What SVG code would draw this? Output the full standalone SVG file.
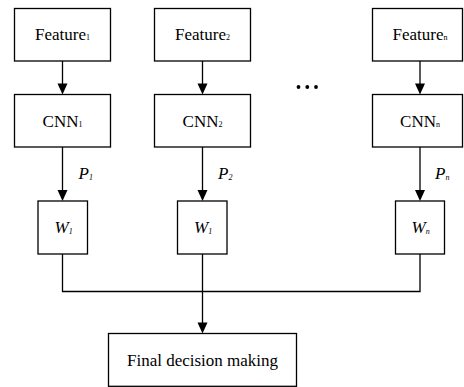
<svg xmlns="http://www.w3.org/2000/svg" width="464" height="387" viewBox="0 0 464 387">
  <style>
    .box { fill: #ffffff; stroke: #000000; stroke-width: 1.3; }
    .wire { fill: none; stroke: #000000; stroke-width: 1.3; }
    text { font-family: 'Liberation Serif', 'DejaVu Serif', serif; font-size: 17px; fill: #000000; }
    .lbl { text-anchor: middle; }
    .it { font-style: italic; text-anchor: start; }
    .sub { font-size: 8px; }
  </style>
  <rect width="464" height="387" fill="#ffffff"/>

  <!-- connectors -->
  <g id="connectors">
    <line class="wire" x1="62.5" y1="61" x2="62.5" y2="90"/>
    <line class="wire" x1="202.5" y1="61" x2="202.5" y2="90"/>
    <line class="wire" x1="420" y1="61" x2="420" y2="90"/>
    <line class="wire" x1="62.5" y1="147" x2="62.5" y2="196"/>
    <line class="wire" x1="202.5" y1="147" x2="202.5" y2="196"/>
    <line class="wire" x1="420" y1="147" x2="420" y2="196"/>
    <polyline class="wire" points="62.5,254 62.5,291.5 420,291.5 420,254"/>
    <line class="wire" x1="202.5" y1="254" x2="202.5" y2="328"/>
    <!-- arrowheads -->
    <g fill="#000000">
      <path d="M57.5,83.5 L67.5,83.5 L62.5,94.5 Z"/>
      <path d="M197.5,83.5 L207.5,83.5 L202.5,94.5 Z"/>
      <path d="M415,83.5 L425,83.5 L420,94.5 Z"/>
      <path d="M57.5,190 L67.5,190 L62.5,201 Z"/>
      <path d="M197.5,190 L207.5,190 L202.5,201 Z"/>
      <path d="M415,190 L425,190 L420,201 Z"/>
      <path d="M197.5,322.5 L207.5,322.5 L202.5,333.5 Z"/>
    </g>
    <!-- edge labels -->
    <text class="it" x="78.5" y="179">P<tspan class="sub" dy="1">1</tspan></text>
    <text class="it" x="218" y="179">P<tspan class="sub" dy="1">2</tspan></text>
    <text class="it" x="435" y="179">P<tspan class="sub" dy="1">n</tspan></text>
  </g>

  <!-- feature inputs -->
  <g id="feature1">
    <rect class="box" x="14.5" y="8.5" width="96" height="52.5"/>
    <text class="lbl" x="62.5" y="40">Feature<tspan class="sub">1</tspan></text>
  </g>
  <g id="feature2">
    <rect class="box" x="154.5" y="8.5" width="96" height="52.5"/>
    <text class="lbl" x="202.5" y="40">Feature<tspan class="sub">2</tspan></text>
  </g>
  <g id="featuren">
    <rect class="box" x="372.5" y="8.5" width="90" height="52.5"/>
    <text class="lbl" x="420" y="40">Feature<tspan class="sub">n</tspan></text>
  </g>

  <!-- ellipsis between columns -->
  <g id="ellipsis" fill="#000000">
    <circle cx="298.5" cy="87" r="1.9"/>
    <circle cx="307.3" cy="87" r="1.9"/>
    <circle cx="316" cy="87" r="1.9"/>
  </g>

  <!-- CNN branches -->
  <g id="cnn1">
    <rect class="box" x="14.5" y="94.5" width="96" height="52.5"/>
    <text class="lbl" x="62.5" y="126.5">CNN<tspan class="sub">1</tspan></text>
  </g>
  <g id="cnn2">
    <rect class="box" x="154.5" y="94.5" width="96" height="52.5"/>
    <text class="lbl" x="202.5" y="126.5">CNN<tspan class="sub">2</tspan></text>
  </g>
  <g id="cnnn">
    <rect class="box" x="372.5" y="94.5" width="90" height="52.5"/>
    <text class="lbl" x="420" y="126.5">CNN<tspan class="sub">n</tspan></text>
  </g>

  <!-- weights -->
  <g id="w1">
    <rect class="box" x="38" y="201" width="49.5" height="53"/>
    <text class="it" x="54.5" y="233">W<tspan class="sub" dy="1">1</tspan></text>
  </g>
  <g id="w2">
    <rect class="box" x="177.5" y="201" width="49.5" height="53"/>
    <text class="it" x="194" y="233">W<tspan class="sub" dy="1">1</tspan></text>
  </g>
  <g id="wn">
    <rect class="box" x="395.5" y="201" width="49" height="53"/>
    <text class="it" x="411.5" y="233">W<tspan class="sub" dy="1">n</tspan></text>
  </g>

  <!-- fusion -->
  <g id="final">
    <rect class="box" x="108.5" y="333.5" width="188" height="52.8"/>
    <text class="lbl" x="202.5" y="366">Final decision making</text>
  </g>
</svg>
